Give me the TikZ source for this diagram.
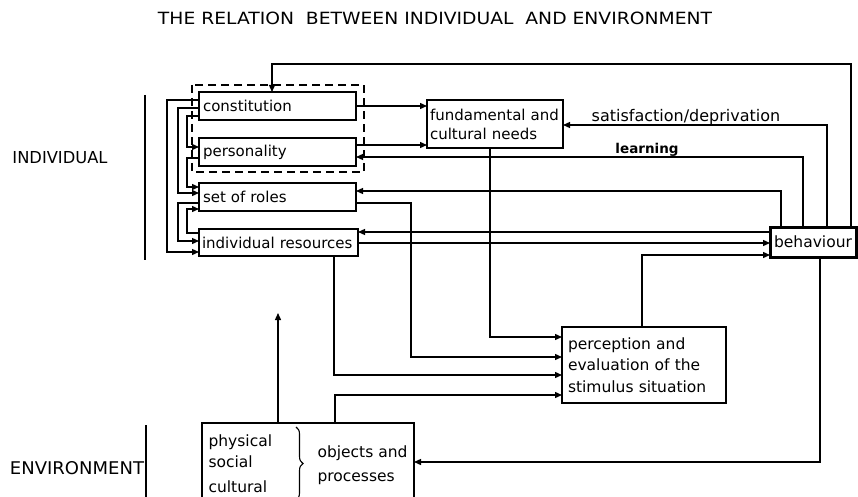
\documentclass[tikz,border=0pt]{standalone}
\usepackage{graphicx}
\usepackage{fontspec}
\setmainfont{DejaVu Sans}
\usetikzlibrary{arrows.meta,decorations.pathreplacing}
\begin{document}
\begin{tikzpicture}[x=1pt,y=-1pt,
  lbox/.style={draw, line width=1.8pt, anchor=north west, outer sep=0pt,
    inner xsep=4pt, inner ysep=0pt, align=left,
    font=\fontsize{15}{19}\selectfont},
  arr/.style={line width=1.3pt, -{Triangle[length=7pt,width=6pt]}},
  lbl/.style={font=\fontsize{15.5}{18}\selectfont},
  bar/.style={line width=1.6pt}]
\useasboundingbox (0,0) rectangle (858,497);
\clip (0,0) rectangle (858,497);

% titles and side labels
\node (title) at (435,18) {\resizebox{554pt}{12.5pt}{THE RELATION\ \ BETWEEN INDIVIDUAL\ \ AND ENVIRONMENT}};
\node (indiv) at (60,158) {\resizebox{95pt}{12pt}{INDIVIDUAL}};
\node (envlab) at (77,468) {\resizebox{134pt}{13pt}{ENVIRONMENT}};
\draw[bar] (145,95) -- (145,260);
\draw[bar] (146,425) -- (146,497);

% boxes
\node[lbox, text width=149pt, minimum height=28pt] (constitution) at (199,92) {constitution};
\node[lbox, text width=149pt, minimum height=28pt] (personality) at (199,138) {personality};
\node[lbox, text width=149pt, minimum height=28pt] (roles) at (199,183) {set of roles};
\node[lbox, inner xsep=3pt, text width=153pt, minimum height=27pt] (resources) at (199,229) {individual resources};
\node[lbox, inner xsep=3pt, text width=130pt, minimum height=48pt] (needs) at (427,100) {fundamental and\\cultural needs};
\node[lbox, inner xsep=6pt, text width=152pt, minimum height=76pt,
      font=\fontsize{15.5}{21.5}\selectfont] (perception) at (562,327) {perception and\\evaluation of the\\stimulus situation};
\node[draw, line width=3pt, anchor=north west, outer sep=0pt, minimum width=86pt,
      minimum height=30pt, font=\fontsize{15.5}{18}\selectfont] (behaviour) at (770,227) {behaviour};
\node[draw, line width=1.8pt, anchor=north west, outer sep=0pt, minimum width=212pt,
      minimum height=90pt] (env) at (202,423) {};

% environment box contents
\node[lbl, anchor=base west] (phys) at (205,446) {physical};
\node[lbl, anchor=base west] (soc) at (205,467) {social};
\node[lbl, anchor=base west] (cult) at (205,492) {cultural};
\node[lbl, anchor=base west] (obj) at (314,457) {objects and};
\node[lbl, anchor=base west] (proc) at (314,481) {processes};
\draw[line width=1.1pt, decorate, decoration={brace, amplitude=7pt}] (296,427) -- (296,500);

% dashed grouping
\draw[line width=1.3pt, dash pattern=on 8pt off 5pt] (192,85) rectangle (364,172);

% labels on feedback lines
\node[font=\fontsize{16}{18}\selectfont] (satis) at (686,117) {satisfaction/deprivation};
\node[font=\fontsize{13.5}{16}\selectfont\bfseries] (learn) at (647,150) {learning};

% feedback from behaviour
\draw[arr] (behaviour.north -| 851,0) -- (851,64) -- (272,64) -- (constitution.north -| 272,0);
\draw[arr] (behaviour.north -| 827,0) |- (needs.east |- 0,125);
\draw[arr] (behaviour.north -| 803,0) |- (personality.east |- 0,157);
\draw[arr] (behaviour.north -| 781,0) |- (roles.east |- 0,191);
\draw[arr] (behaviour.west |- 0,232) -- (resources.east |- 0,232);
\draw[arr] (resources.east |- 0,243) -- (behaviour.west |- 0,243);
\draw[arr] (perception.north -| 642,0) |- (behaviour.west |- 0,255);
\draw[arr] (behaviour.south -| 820,0) |- (env.east |- 0,462);

% to needs and perception
\draw[arr] (constitution.east |- 0,106) -- (needs.west |- 0,106);
\draw[arr] (personality.east |- 0,145) -- (needs.west |- 0,145);
\draw[arr] (needs.south -| 490,0) |- (perception.west |- 0,337);
\draw[arr] (roles.east |- 0,203) -| (411,357) -- (perception.west |- 0,357);
\draw[arr] (resources.south -| 334,0) |- (perception.west |- 0,375);
\draw[arr] (env.north -| 335,0) |- (perception.west |- 0,395);
\coordinate (upend) at (278,313);
\draw[arr] (env.north -| 278,0) -- (upend);

% left loops
\draw[arr] (constitution.west |- 0,100) -| (167,252) -- (resources.west |- 0,252);
\draw[arr] (constitution.west |- 0,108) -| (178,193) -- (roles.west |- 0,193);
\draw[arr] (constitution.west |- 0,116) -| (187,147) -- (personality.west |- 0,147);
\draw[arr] (personality.west |- 0,158) -| (187,187) -- (roles.west |- 0,187);
\draw[arr] (roles.west |- 0,203) -| (178,241) -- (resources.west |- 0,241);
\draw[arr] (resources.west |- 0,233) -| (187,209) -- (roles.west |- 0,209);
\end{tikzpicture}
\end{document}
